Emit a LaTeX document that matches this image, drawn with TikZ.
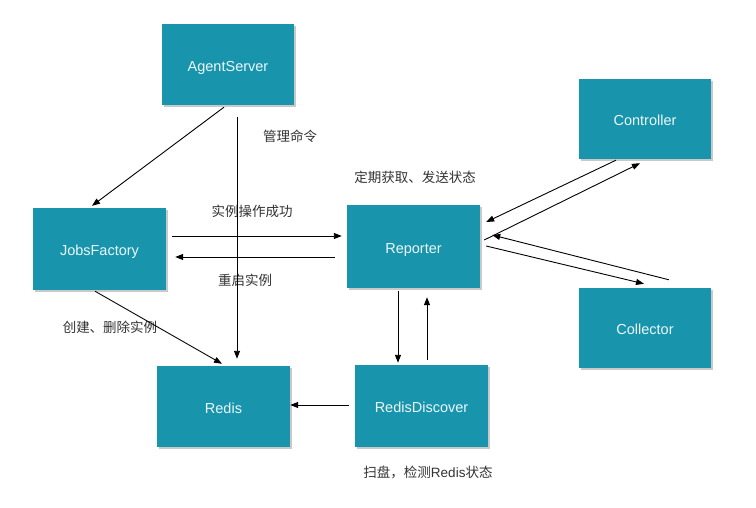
\documentclass[tikz,border=0pt]{standalone}
\usepackage{fontspec}
\setmainfont{Liberation Sans}
\newfontfamily\cjk{Noto Sans CJK SC}
\usetikzlibrary{arrows.meta,calc,shadows}
\definecolor{boxteal}{HTML}{1895AD}
\definecolor{labelgray}{HTML}{333333}
\begin{document}
\begin{tikzpicture}[x=1pt,y=-1pt,
  box/.style={rectangle,fill=boxteal,draw=none,text=white!92!boxteal,
    font=\fontsize{14.5}{16}\selectfont,inner sep=0pt,text height=13.4pt,text depth=0pt,
    drop shadow={shadow xshift=1.5pt,shadow yshift=-2pt,opacity=0.35,fill=black!60}},
  lbl/.style={text=labelgray,font=\cjk\fontsize{13.5}{15}\selectfont,inner sep=0pt},
  conn/.style={draw=black,line width=0.9pt,-{Triangle[length=8pt,width=6pt]}}]
\useasboundingbox (0,0) rectangle (756,508);
\fill[white] (0,0) rectangle (756,508);
\node[box,minimum width=132pt,minimum height=81pt] (A) at (228,64.5) {AgentServer};
\node[box,minimum width=132pt,minimum height=80pt] (C) at (645,119) {Controller};
\node[box,minimum width=133pt,minimum height=82pt] (J) at (99.5,249) {JobsFactory};
\node[box,minimum width=133pt,minimum height=83pt] (P) at (413.5,246.5) {Reporter};
\node[box,minimum width=132pt,minimum height=80pt] (L) at (645,328) {Collector};
\node[box,minimum width=133pt,minimum height=81pt] (R) at (223.5,406.5) {Redis};
\node[box,minimum width=133pt,minimum height=82pt] (D) at (421.5,406) {RedisDiscover};

\node[lbl] (t1) at (290,136) {管理命令};
\node[lbl] (t2) at (415,177) {定期获取、发送状态};
\node[lbl] (t3) at (252,211) {实例操作成功};
\node[lbl] (t4) at (245,280) {重启实例};
\node[lbl] (t5) at (110,327) {创建、删除实例};
\node[lbl,font=\fontsize{13.5}{15}\selectfont] (t6) at (428,472) {{\cjk 扫盘，检测}Redis{\cjk 状态}};

\draw[conn] ($(A.south)+(-4,2)$) -- ($(J.north)+(-7.5,-2)$);
\draw[conn] ($(A.south)+(9,12)$) -- ($(R.north)+(13.5,-7)$);
\draw[conn] ($(J.east)+(6,-13)$) -- ($(P.west)+(-5,-10.5)$);
\draw[conn] ($(P.west)+(-12,10.5)$) -- ($(J.east)+(9,8)$);
\draw[conn] ($(J.south)+(-4.5,1)$) -- ($(R.north)+(-1.5,-2)$);
\draw[conn] ($(P.south)+(-15.5,3)$) -- ($(D.north)+(-23.5,-2)$);
\draw[conn] ($(D.north)+(5.5,-5)$) -- ($(P.south)+(13.5,9)$);
\draw[conn] ($(D.west)+(-6,-1)$) -- ($(R.east)+(0,-1.5)$);
\draw[conn] ($(C.south)+(-29,1)$) -- ($(P.east)+(6,-24.5)$);
\draw[conn] ($(P.east)+(4,-6.5)$) -- ($(C.south)+(-5,4)$);
\draw[conn] ($(L.north)+(24,-8)$) -- ($(P.east)+(12,-11.5)$);
\draw[conn] ($(P.east)+(6,-0.5)$) -- ($(L.north)+(-1,-4)$);
\end{tikzpicture}
\end{document}
